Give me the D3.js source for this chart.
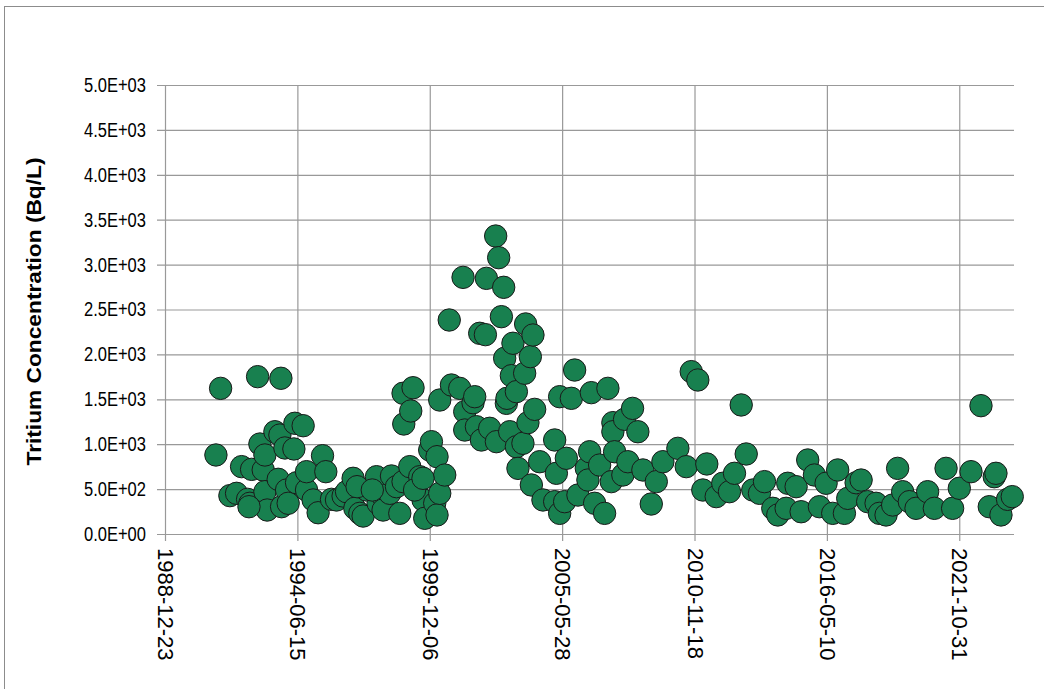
<!DOCTYPE html>
<html>
<head>
<meta charset="utf-8">
<script src="https://cdn.jsdelivr.net/npm/d3@7"></script>
<style>
  html, body { margin: 0; padding: 0; background: #fff; }
  svg { display: block; }
  text { font-family: "Liberation Sans", Arial, sans-serif; }
</style>
</head>
<body>
<svg id="chart" width="1044" height="689"></svg>
<script>
// ---- Data (sample date as decimal year, tritium concentration in Bq/L) ----
const sampleYears = [
  1991.083, 1991.277, 1991.661, 1991.938, 1992.145, 1992.393, 1992.488, 1992.558, 1992.806, 1992.901,
  1993.038, 1993.108, 1993.108, 1993.203, 1993.521, 1993.658, 1993.728, 1993.769, 1993.798, 1993.935,
  1994.005, 1994.071, 1994.307, 1994.348, 1994.418, 1994.691, 1994.831, 1994.831, 1995.104, 1995.311,
  1995.493, 1995.629, 1995.865, 1996.071, 1996.344, 1996.485, 1996.757, 1996.828, 1997.034, 1997.171,
  1997.311, 1997.724, 1997.791, 1997.997, 1997.997, 1998.274, 1998.344, 1998.551, 1998.688, 1998.824,
  1998.824, 1998.853, 1999.101, 1999.142, 1999.237, 1999.378, 1999.514, 1999.650, 1999.721, 1999.927,
  1999.998, 2000.134, 2000.229, 2000.229, 2000.341, 2000.341, 2000.547, 2000.733, 2000.824, 2001.167,
  2001.304, 2001.374, 2001.374, 2001.717, 2001.787, 2001.857, 2001.994, 2002.064, 2002.229, 2002.270,
  2002.407, 2002.655, 2002.684, 2002.779, 2002.891, 2002.986, 2003.027, 2003.097, 2003.122, 2003.234,
  2003.304, 2003.370, 2003.511, 2003.511, 2003.577, 2003.783, 2003.854, 2003.895, 2003.990, 2004.089,
  2004.131, 2004.197, 2004.267, 2004.474, 2004.610, 2005.094, 2005.094, 2005.164, 2005.300, 2005.300,
  2005.507, 2005.577, 2005.784, 2005.920, 2006.057, 2006.404, 2006.470, 2006.540, 2006.610, 2006.747,
  2006.954, 2007.160, 2007.297, 2007.437, 2007.503, 2007.503, 2007.574, 2007.916, 2007.987, 2008.123,
  2008.317, 2008.536, 2008.743, 2009.090, 2009.297, 2009.570, 2010.190, 2010.537, 2010.744, 2011.016,
  2011.223, 2011.388, 2011.777, 2012.049, 2012.326, 2012.533, 2012.810, 2013.017, 2013.289, 2013.566,
  2013.773, 2014.116, 2014.323, 2014.670, 2014.736, 2015.083, 2015.290, 2015.563, 2015.840, 2016.046,
  2016.323, 2016.596, 2016.802, 2017.079, 2017.216, 2017.563, 2017.770, 2018.042, 2018.390, 2018.526,
  2018.803, 2019.076, 2019.282, 2019.489, 2019.766, 2020.043, 2020.522, 2020.799, 2021.283, 2021.555,
  2021.832, 2022.316, 2022.729, 2023.072, 2023.279, 2023.349, 2023.556, 2023.829, 2024.023,
  1992.450, 1996.920, 1997.550, 1999.300, 1999.650
];
const tritiumValues = [
  880, 1622, 427, 453, 750, 386, 342, 720, 1752, 1002,
  713, 880, 471, 267, 1139, 609, 1102, 1734, 304, 958,
  490, 342, 947, 1233, 571, 1206, 490, 694, 379, 237,
  872, 694, 386, 379, 423, 471, 620, 286, 230, 200,
  490, 638, 342, 416, 267, 453, 646, 527, 230, 583,
  1567, 1225, 750, 1370, 1629, 490, 638, 379, 175, 935,
  1028, 342, 861, 212, 453, 1492, 657, 2383, 1659, 1622,
  2858, 1362, 1158, 1462, 1529, 1195, 2235, 1047, 2220, 2847,
  1177, 3318, 1028, 3077, 2420, 2747, 1957, 1455, 1511, 1139,
  1763, 2124, 1585, 972, 731, 1010, 1790, 2339, 1240, 1975,
  546, 2216, 1388, 805, 379, 1047, 360, 676, 1529, 230,
  360, 843, 1511, 1826, 434, 731, 601, 916, 1574, 342,
  768, 230, 1622, 583, 1240, 1139, 916, 657, 1277, 805,
  1399, 1139, 713, 334, 583, 805, 954, 750, 1808, 1715,
  490, 780, 416, 565, 471, 676, 1437, 891, 490, 453,
  583, 286, 212, 286, 565, 527, 248, 824, 657, 304,
  565, 230, 713, 230, 397, 571, 601, 360, 342, 230,
  212, 323, 731, 471, 360, 286, 471, 286, 731, 286,
  509, 694, 1429, 304, 638, 676, 212, 386, 416,
  304, 527, 490, 490, 620
];
const xTickLabels = ["1988-12-23", "1994-06-15", "1999-12-06", "2005-05-28", "2010-11-18", "2016-05-10", "2021-10-31"];
const yTickValues = [0, 500, 1000, 1500, 2000, 2500, 3000, 3500, 4000, 4500, 5000];
const yAxisTitle = "Tritium Concentration (Bq/L)";
const xDomainLabels = ["1988-12-23", "2024-02-05"];

// ---- Layout ----
const plot = { left: 165, right: 1014, top: 85, bottom: 534 };
const parse = d3.utcParse("%Y-%m-%d");
function yearToDate(y) {
  const yr = Math.floor(y);
  const start = Date.UTC(yr, 0, 1), end = Date.UTC(yr + 1, 0, 1);
  return new Date(start + (y - yr) * (end - start));
}

const x = d3.scaleUtc().domain(xDomainLabels.map(parse)).range([plot.left, plot.right]);
const y = d3.scaleLinear().domain([0, 5000]).range([plot.bottom, plot.top]);

function expFmt(v) {
  if (v === 0) return "0.0E+00";
  const e = Math.floor(Math.log10(v));
  const m = v / Math.pow(10, e);
  return m.toFixed(1) + "E" + (e >= 0 ? "+" : "-") + String(Math.abs(e)).padStart(2, "0");
}

const svg = d3.select("#chart");

// outer frame
svg.append("rect").attr("x", 4.5).attr("y", 6.5).attr("width", 1100).attr("height", 700)
  .attr("fill", "none").attr("stroke", "#8c8c8c").attr("stroke-width", 1);

// horizontal gridlines + y ticks
const yAxis = d3.axisLeft(y).tickValues(yTickValues).tickFormat(expFmt)
  .tickSize(-(plot.right - plot.left)).tickSizeOuter(0).tickPadding(19);
const gy = svg.append("g").attr("transform", `translate(${plot.left},0)`).call(yAxis);
gy.select(".domain").remove();
gy.selectAll(".tick line").attr("x1", -8).attr("stroke", "#999").attr("stroke-width", 1.2);
gy.selectAll(".tick text").attr("font-size", 20).attr("fill", "#000")
  .attr("font-family", "'Liberation Sans', Arial, sans-serif")
  .attr("textLength", 62).attr("lengthAdjust", "spacingAndGlyphs");

// vertical gridlines + x ticks
const xTicks = xTickLabels.map(parse);
const xAxis = d3.axisBottom(x).tickValues(xTicks).tickFormat(d3.utcFormat("%Y-%m-%d"))
  .tickSize(-(plot.bottom - plot.top)).tickSizeOuter(0);
const gx = svg.append("g").attr("transform", `translate(0,${plot.bottom})`).call(xAxis);
gx.select(".domain").remove();
gx.selectAll(".tick line").attr("y1", 7).attr("stroke", "#999").attr("stroke-width", 1.2);
gx.selectAll(".tick text")
  .attr("font-size", 22).attr("fill", "#000")
  .attr("font-family", "'Liberation Sans', Arial, sans-serif")
  .attr("text-anchor", "start")
  .attr("dy", null)
  .attr("y", 0)
  .attr("transform", "translate(0,14) rotate(90)")
  .attr("dominant-baseline", "central");

// y axis title
svg.append("text")
  .attr("transform", `translate(33,${(plot.top + plot.bottom) / 2 + 2}) rotate(-90)`)
  .attr("text-anchor", "middle").attr("dominant-baseline", "central")
  .attr("font-size", 21).attr("font-weight", "bold").attr("fill", "#000")
  .attr("textLength", 308).attr("lengthAdjust", "spacingAndGlyphs")
  .text(yAxisTitle);

// points
const points = sampleYears.map((yr, i) => ({ date: yearToDate(yr), value: tritiumValues[i] }));
svg.append("g").selectAll("circle").data(points).join("circle")
  .attr("cx", d => x(d.date)).attr("cy", d => y(d.value)).attr("r", 11.2)
  .attr("fill", "#18804f").attr("stroke", "#1a1a1a").attr("stroke-width", 1);
</script>
</body>
</html>
